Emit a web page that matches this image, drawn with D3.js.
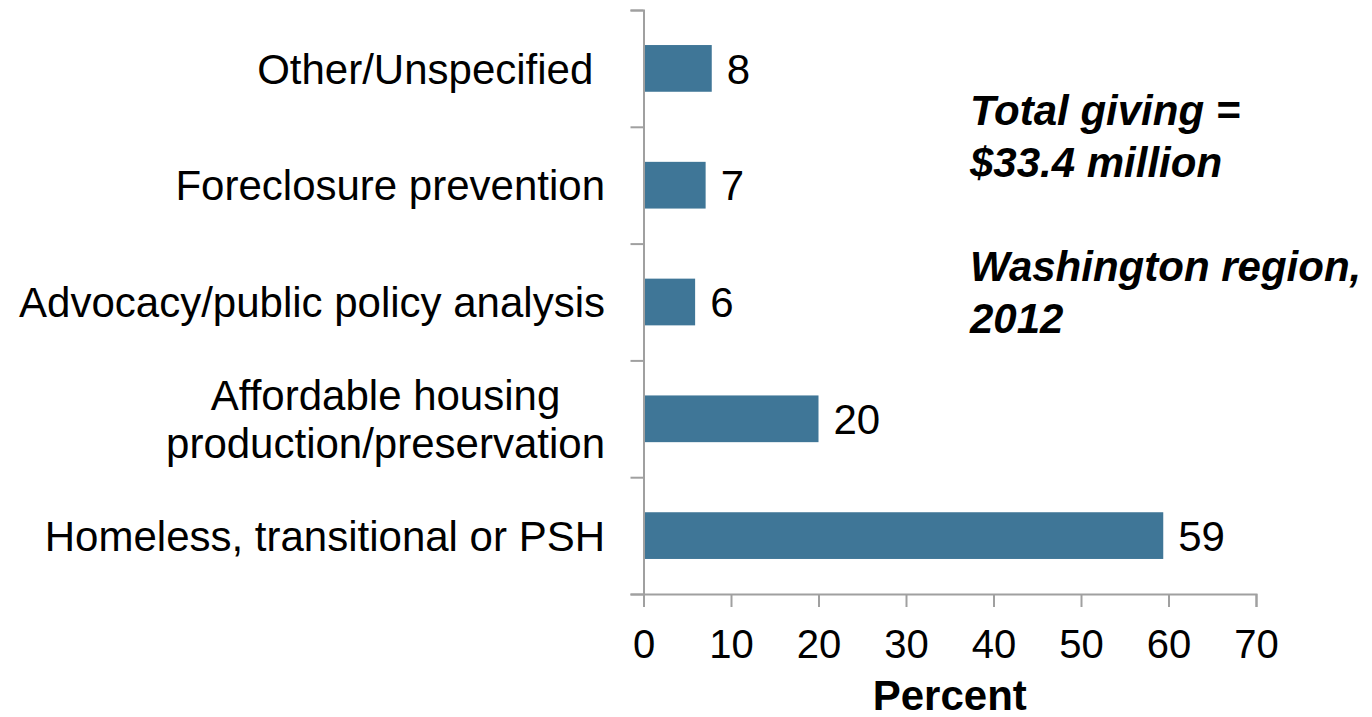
<!DOCTYPE html>
<html>
<head>
<meta charset="utf-8">
<script src="https://cdn.jsdelivr.net/npm/d3@7"></script>
<style>
  body { margin: 0; background: #fff; }
  svg { display: block; font-family: "Liberation Sans", Arial, sans-serif; }
</style>
</head>
<body>
<svg width="1372" height="717"></svg>
<script>
// categories, top to bottom
var categories = [
    ['Other/Unspecified '],
    ['Foreclosure prevention'],
    ['Advocacy/public policy analysis'],
    ['Affordable housing', 'production/preservation'],
    ['Homeless, transitional or PSH']
];
var values = [7.8, 7.1, 5.9, 20.0, 59.4];
var valueLabels = ['8', '7', '6', '20', '59'];
var xTicks = [0, 10, 20, 30, 40, 50, 60, 70];
var noteLines = ['Total giving =', '$33.4 million', '', 'Washington region,', '2012'];

var svg = d3.select('svg');
var plotLeft = 643.5, plotRight = 1256, plotTop = 10, plotBottom = 594;
var axisColor = '#A0A0A0';
var barColor = '#3F7697';

// x scale
var xscale = d3.scaleLinear()
    .domain([0, 70])
    .range([plotLeft, plotRight]);

// y scale, one band per category
var yscale = d3.scaleBand()
    .domain(d3.range(categories.length))
    .range([plotTop, plotBottom])
    .paddingInner(0.6)
    .paddingOuter(0.3);

// boundaries between categories for the tick marks
var yEdges = d3.scaleLinear()
    .domain([0, categories.length])
    .range([plotTop, plotBottom]);

// bars
svg.append('g')
    .selectAll('rect')
    .data(values)
    .enter()
    .append('rect')
    .attr('x', xscale(0))
    .attr('y', function (d, i) { return yscale(i); })
    .attr('width', function (d) { return xscale(d) - xscale(0); })
    .attr('height', yscale.bandwidth())
    .attr('fill', barColor);

// value labels
svg.append('g')
    .selectAll('text')
    .data(values)
    .enter()
    .append('text')
    .attr('x', function (d) { return xscale(d) + 15; })
    .attr('y', function (d, i) { return yscale(i) + yscale.bandwidth() / 2; })
    .attr('dy', '0.36em')
    .style('font-size', '42px')
    .text(function (d, i) { return valueLabels[i]; });

// y axis
var y_axis = d3.axisLeft()
    .scale(yEdges)
    .tickValues(d3.range(categories.length + 1))
    .tickSize(13)
    .tickFormat('');

svg.append('g')
    .attr('transform', 'translate(' + plotLeft + ',0)')
    .call(y_axis)
    .call(function (g) { g.selectAll('path, line').attr('stroke', axisColor).attr('stroke-width', 2); });

// x axis
var x_axis = d3.axisBottom()
    .scale(xscale)
    .tickValues(xTicks)
    .tickSizeInner(13)
    .tickSizeOuter(13)
    .tickPadding(23);

svg.append('g')
    .attr('transform', 'translate(0,' + plotBottom + ')')
    .call(x_axis)
    .call(function (g) {
        g.selectAll('path, line').attr('stroke', axisColor).attr('stroke-width', 2);
        g.selectAll('text')
            .attr('fill', '#000')
            .style('font-size', '40px')
            .style('font-family', '"Liberation Sans", Arial, sans-serif');
    });

// category labels, a two-line label is centred as a block
var labelRight = 605;
var catG = svg.append('g');
categories.forEach(function (lines, i) {
    var cy = yscale(i) + yscale.bandwidth() / 2;
    var lineH = 48;
    var g = catG.append('g');
    var texts = lines.map(function (line, j) {
        return g.append('text')
            .attr('y', cy + (j - (lines.length - 1) / 2) * lineH)
            .attr('dy', '0.36em')
            .style('font-size', '42px')
            .style('white-space', 'pre')
            .text(line);
    });
    var widths = texts.map(function (t) { return t.node().getComputedTextLength(); });
    var maxW = d3.max(widths);
    texts.forEach(function (t) {
        t.attr('x', labelRight - maxW / 2).attr('text-anchor', 'middle');
    });
});

// x axis title
svg.append('text')
    .attr('x', xscale(35))
    .attr('y', 710)
    .attr('text-anchor', 'middle')
    .style('font-size', '42px')
    .style('font-weight', 'bold')
    .text('Percent');

// note
svg.append('g')
    .selectAll('text')
    .data(noteLines)
    .enter()
    .append('text')
    .attr('x', 970)
    .attr('y', function (d, i) { return 125 + i * 52; })
    .style('font-size', '42px')
    .style('font-weight', 'bold')
    .style('font-style', 'italic')
    .text(function (d) { return d; });
</script>
</body>
</html>
